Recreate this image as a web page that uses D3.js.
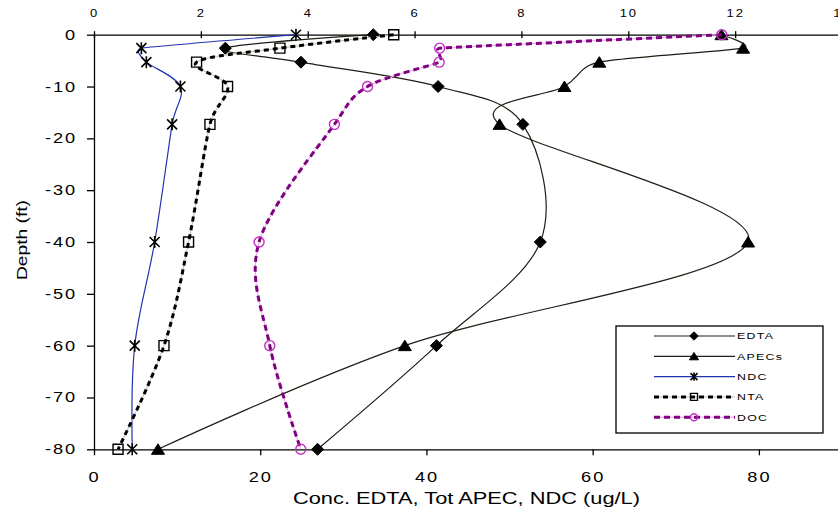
<!DOCTYPE html>
<html>
<head>
<meta charset="utf-8">
<script src="https://cdn.jsdelivr.net/npm/d3@7"></script>
<style>
  body { margin: 0; background: #fff; }
  svg { display: block; font-family: "Liberation Sans", Arial, sans-serif; }
</style>
</head>
<body>
<script>
// Depth profile: concentrations vs. depth (ft)
const depth = [0, -2.6, -5.3, -10, -17.3, -40, -60, -80];

// bottom axis series (ug/L)
const edta  = [33.6, 15.8, 24.9, 41.4, 51.6, 53.7, 41.2, 26.9];
const apecs = [75.5, 78.1, 60.8, 56.6, 48.8, 78.7, 37.4, 7.7];
const ndc   = [24.3, 5.7, 6.3, 10.4, 9.4, 7.3, 4.9, 4.6];

// top axis series
const nta = [5.61, 3.48, 1.92, 2.50, 2.17, 1.77, 1.31, 0.45];
const doc = [11.75, 6.47, 6.46, 5.12, 4.50, 3.09, 3.29, 3.87];

const bottomTicks = [0, 20, 40, 60, 80];
const topTicks = [0, 2, 4, 6, 8, 10, 12, 14];
const depthTicks = [0, -10, -20, -30, -40, -50, -60, -70, -80];
const seriesNames = ["EDTA", "APECs", "NDC", "NTA", "DOC"];

const W = 838, H = 509;
const xB = d3.scaleLinear().domain([0, 90]).range([94, 842]);
const xT = d3.scaleLinear().domain([0, 14]).range([94, 842]);
const y = d3.scaleLinear().domain([0, -80]).range([34.7, 449.3]);

const svg = d3.select("body").append("svg").attr("width", W).attr("height", H);

const SX = 1.3; // wide lettering of the labels
const plain = d => String(d); // hyphen-minus, as on the printed axis

function styleTicks(g, size, ls) {
  g.selectAll(".tick text")
    .attr("fill", "#000")
    .style("font-size", size + "px")
    .style("letter-spacing", ls + "px")
    .attr("transform", `scale(${SX},1)`);
  g.select(".domain").attr("stroke", "#000").attr("stroke-width", 1.3);
  g.selectAll(".tick line").attr("stroke", "#000").attr("stroke-width", 1.3);
}

// left axis (depth)
const gL = svg.append("g").attr("transform", "translate(94,0)")
  .call(d3.axisLeft(y).tickValues(depthTicks).tickSize(7).tickSizeOuter(0).tickPadding(6)
    .tickFormat(plain));
styleTicks(gL, 14, 1.5);

// bottom axis (at -80)
const gB = svg.append("g").attr("transform", `translate(0,${y(-80)})`)
  .call(d3.axisBottom(xB).tickValues(bottomTicks).tickSize(6).tickSizeOuter(0).tickPadding(16.5)
    .tickFormat(plain));
styleTicks(gB, 14, 1.5);

// top axis (at 0) with crossing tick marks
const gT = svg.append("g").attr("transform", `translate(0,${y(0)})`)
  .call(d3.axisTop(xT).tickValues(topTicks).tickSize(0).tickSizeOuter(0).tickPadding(18)
    .tickFormat(plain));
styleTicks(gT, 10, 1.5);
gT.selectAll(".tick").append("line")
  .attr("y1", -3.5).attr("y2", 3.5).attr("stroke", "#000").attr("stroke-width", 1.3);

// axis titles
svg.append("text")
  .attr("x", 466.5).attr("y", 504)
  .attr("text-anchor", "middle")
  .attr("textLength", 347).attr("lengthAdjust", "spacingAndGlyphs")
  .style("font-size", "16px")
  .text("Conc. EDTA, Tot APEC, NDC (ug/L)");

svg.append("text")
  .attr("transform", "translate(27,240) rotate(-90)")
  .attr("text-anchor", "middle")
  .attr("textLength", 80).attr("lengthAdjust", "spacingAndGlyphs")
  .style("font-size", "14px")
  .text("Depth (ft)");

// marker shapes
function markerPath(type, k) {
  const s = k;
  switch (type) {
    case "diamond": return `M0,${-6*s}L${6*s},0L0,${6*s}L${-6*s},0Z`;
    case "triangle": return `M0,${-5.5*s}L${6.5*s},${5*s}L${-6.5*s},${5*s}Z`;
    case "square": return `M${-5*s},${-5*s}h${10*s}v${10*s}h${-10*s}Z`;
    case "star": return `M${-5*s},${-5*s}L${5*s},${5*s}M${5*s},${-5*s}L${-5*s},${5*s}M0,${-6*s}V${6*s}`;
    case "circle": return d3.arc()({innerRadius: 0, outerRadius: 5*s, startAngle: 0, endAngle: 2*Math.PI});
  }
}

// spreadsheet-style smoothed line: cubic Bezier segments whose tangents are
// 1/6 of the neighbour chord, limited to half of the shorter adjacent segment
function smoothPath(pts) {
  const n = pts.length;
  const dist = (a, b) => Math.hypot(b[0] - a[0], b[1] - a[1]);
  const tan = pts.map((p, i) => {
    const p0 = pts[Math.max(i - 1, 0)], p2 = pts[Math.min(i + 1, n - 1)];
    const d02 = dist(p0, p2), d01 = dist(p0, p), d12 = dist(p, p2);
    if (d02 === 0) return [0, 0];
    let f = 1 / 6;
    if (!(d02 / 6 < d01 / 2 && d02 / 6 < d12 / 2)) f = Math.min(d01, d12) / (2 * d02);
    return [f * (p2[0] - p0[0]), f * (p2[1] - p0[1])];
  });
  const path = d3.path();
  path.moveTo(pts[0][0], pts[0][1]);
  for (let i = 0; i < n - 1; i++) {
    const a = pts[i], b = pts[i + 1];
    path.bezierCurveTo(a[0] + tan[i][0], a[1] + tan[i][1],
                       b[0] - tan[i + 1][0], b[1] - tan[i + 1][1], b[0], b[1]);
  }
  return path.toString();
}

const series = [
  { name: seriesNames[0], vals: edta,  x: xB, color: "#1e1e14", width: 1.2, dash: null, marker: "diamond",
    mFill: "#000", mStroke: "#000", mWidth: 1 },
  { name: seriesNames[1], vals: apecs, x: xB, color: "#1e1e14", width: 1.2, dash: null, marker: "triangle",
    mFill: "#000", mStroke: "#000", mWidth: 1 },
  { name: seriesNames[2], vals: ndc,   x: xB, color: "#2233b0", width: 1.2, dash: null, marker: "star",
    mFill: "none", mStroke: "#000", mWidth: 1.6 },
  { name: seriesNames[3], vals: nta,   x: xT, color: "#000", width: 3, dash: "5,4", under: "#bdbda8", marker: "square",
    mFill: "none", mStroke: "#000", mWidth: 1.4 },
  { name: seriesNames[4], vals: doc,   x: xT, color: "#800080", width: 3, dash: "6,4", under: "#e8a0e8", marker: "circle",
    mFill: "none", mStroke: "#c030c0", mWidth: 1.4 }
];

series.forEach(s => {
  const pts = s.vals.map((v, i) => [s.x(v), y(depth[i])]);
  const d = smoothPath(pts);
  if (s.under) {
    svg.append("path").attr("d", d).attr("fill", "none")
      .attr("stroke", s.under).attr("stroke-width", 1);
  }
  svg.append("path").attr("d", d).attr("fill", "none")
    .attr("stroke", s.color).attr("stroke-width", s.width)
    .attr("stroke-dasharray", s.dash);
  svg.append("g").selectAll("path").data(pts).join("path")
    .attr("transform", p => `translate(${p[0]},${p[1]})`)
    .attr("d", markerPath(s.marker, 1))
    .attr("fill", s.mFill).attr("stroke", s.mStroke).attr("stroke-width", s.mWidth);
});

// legend
const lg = svg.append("g");
lg.append("rect").attr("x", 616).attr("y", 326).attr("width", 207).attr("height", 107)
  .attr("fill", "#fff").attr("stroke", "#000").attr("stroke-width", 1.3);
series.forEach((s, i) => {
  const ly = 336 + i * 20.3;
  if (s.under) {
    lg.append("line").attr("x1", 654).attr("x2", 735).attr("y1", ly).attr("y2", ly)
      .attr("stroke", s.under).attr("stroke-width", 1);
  }
  lg.append("line").attr("x1", 654).attr("x2", 735).attr("y1", ly).attr("y2", ly)
    .attr("stroke", s.color).attr("stroke-width", s.width).attr("stroke-dasharray", s.dash);
  lg.append("path").attr("transform", `translate(694,${ly})`)
    .attr("d", markerPath(s.marker, 0.7))
    .attr("fill", s.mFill).attr("stroke", s.mStroke).attr("stroke-width", s.mWidth);
  lg.append("text")
    .attr("transform", `translate(737,${ly + 3.4}) scale(${SX},1)`)
    .style("font-size", "9.5px").style("letter-spacing", "1px")
    .text(s.name);
});
</script>
</body>
</html>
